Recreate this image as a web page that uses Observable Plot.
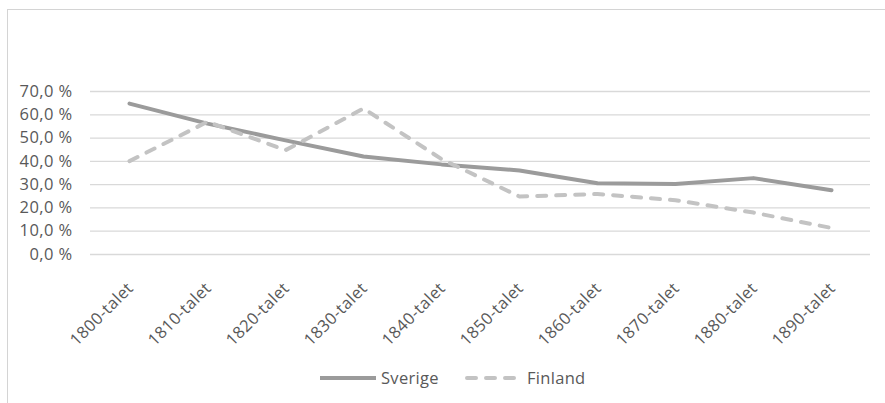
<!DOCTYPE html>
<html>
<head>
<meta charset="utf-8">
<script src="https://cdn.jsdelivr.net/npm/d3@7"></script>
<script src="https://cdn.jsdelivr.net/npm/@observablehq/plot@0.6"></script>
<style>
  html, body { margin: 0; padding: 0; background: #fff; }
  #wrap { position: relative; width: 885px; height: 403px; overflow: hidden; font-family: "Open Sans", "Liberation Sans", sans-serif; }
  #frame { position: absolute; left: 7px; top: 9px; right: -2px; bottom: -2px; border-top: 1.5px solid #d4d4d4; border-left: 1.5px solid #d4d4d4; }
  #chart { position: absolute; left: 0; top: 0; }
  #chart svg text { letter-spacing: 0.4px; }
  #legend { position: absolute; top: 366px; left: 0; width: 885px; height: 24px; }
  .lg { position: absolute; top: 0; font-size: 16.5px; letter-spacing: 0.3px; color: #595959; line-height: 24px; }
</style>
</head>
<body>
<div id="wrap">
  <div id="frame"></div>
  <div id="chart"></div>
  <div id="legend">
    <svg width="885" height="24" style="position:absolute;left:0;top:0">
      <line x1="320" x2="376" y1="12" y2="12" stroke="#9b9b9b" stroke-width="4"></line>
      <line x1="467" x2="517" y1="12" y2="12" stroke="#c3c3c3" stroke-width="4" stroke-dasharray="9,10" stroke-linecap="round"></line>
    </svg>
    <span class="lg" style="left:381px">Sverige</span>
    <span class="lg" style="left:527px">Finland</span>
  </div>
</div>
<script>
const decades = ["1800-talet","1810-talet","1820-talet","1830-talet","1840-talet","1850-talet","1860-talet","1870-talet","1880-talet","1890-talet"];
const sverige = [64.8, 56.2, 49.0, 42.1, 38.7, 36.1, 30.6, 30.3, 32.8, 27.6];
const finland = [40.1, 57.0, 44.8, 62.7, 41.0, 24.9, 26.0, 23.3, 18.0, 11.4];
const yTicks = [0, 10, 20, 30, 40, 50, 60, 70];

const rows = [];
decades.forEach((d, i) => {
  rows.push({decade: d, value: sverige[i], series: "Sverige"});
  rows.push({decade: d, value: finland[i], series: "Finland"});
});

const fmt = v => v.toFixed(1).replace(".", ",") + " %";

const chart = Plot.plot({
  width: 885,
  height: 403,
  marginLeft: 90,
  marginRight: 15,
  marginTop: 91,
  marginBottom: 149,
  style: {fontFamily: '"Open Sans", "Liberation Sans", sans-serif', fontSize: "16.5px", color: "#595959", background: "transparent"},
  x: {type: "point", domain: decades, padding: 0.5, label: null},
  y: {domain: [0, 70], label: null},
  marks: [
    Plot.gridY(yTicks, {stroke: "#d9d9d9", strokeOpacity: 1, strokeWidth: 1.3}),
    Plot.axisY(yTicks, {tickFormat: fmt, tickSize: 0, tickPadding: 18, fill: "#595959", fontSize: 16.5, label: null}),
    Plot.axisX({tickSize: 0, tickRotate: -45, tickPadding: 22, dx: 1, dy: 9, fill: "#595959", fontSize: 16.5, label: null}),
    Plot.line(rows.filter(r => r.series === "Sverige"), {x: "decade", y: "value", stroke: "#9b9b9b", strokeWidth: 4, strokeLinejoin: "round", strokeLinecap: "round"}),
    Plot.line(rows.filter(r => r.series === "Finland"), {x: "decade", y: "value", stroke: "#c3c3c3", strokeWidth: 4, strokeDasharray: "9,10", strokeLinecap: "round", strokeLinejoin: "round"})
  ]
});
document.getElementById("chart").appendChild(chart);
</script>
</body>
</html>
